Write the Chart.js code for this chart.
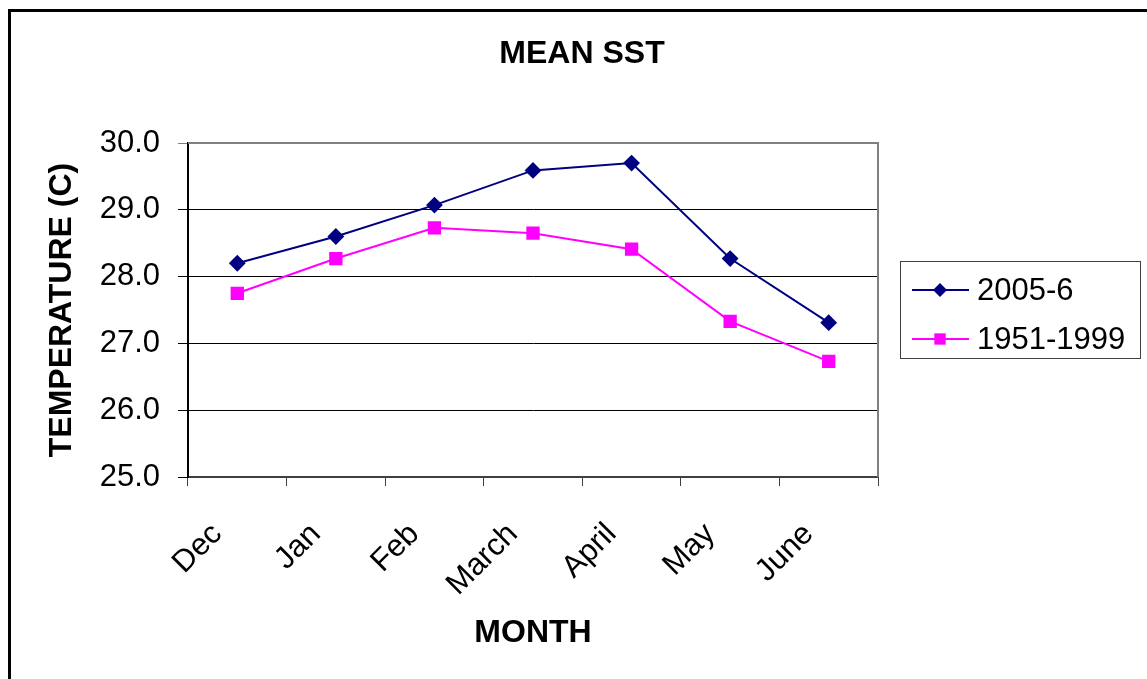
<!DOCTYPE html>
<html>
<head>
<meta charset="utf-8">
<script src="https://cdn.jsdelivr.net/npm/chart.js@4/dist/chart.umd.min.js"></script>
<style>
  html, body { margin: 0; padding: 0; background: #fff; }
  canvas { display: block; }
</style>
</head>
<body>
<canvas id="sstChart" width="1147" height="679"></canvas>
<script>
// chart values
const months = ["Dec", "Jan", "Feb", "March", "April", "May", "June"];
const sst2005 = [28.2, 28.6, 29.07, 29.59, 29.7, 28.27, 27.31];
const sst1951 = [27.75, 28.27, 28.73, 28.65, 28.41, 27.33, 26.73];
const seriesNames = ["2005-6", "1951-1999"];
const yTicks = [25, 26, 27, 28, 29, 30];

const fontFamily = "'Liberation Sans', Arial, sans-serif";

// outer frame, plot border, title and legend box
const decorPlugin = {
    id: "decor",
    beforeDraw(chart) {
        const ctx = chart.ctx;
        ctx.save();
        ctx.fillStyle = "#fff";
        ctx.fillRect(0, 0, chart.width, chart.height);
        ctx.restore();
    },
    beforeDatasetsDraw(chart) {
        const ctx = chart.ctx;
        const a = chart.chartArea;
        ctx.save();
        ctx.strokeStyle = "#808080";
        ctx.lineWidth = 2;
        ctx.beginPath();
        ctx.moveTo(a.left, a.top);
        ctx.lineTo(a.right, a.top);
        ctx.lineTo(a.right, a.bottom);
        ctx.stroke();
        ctx.restore();
    },
    afterDraw(chart) {
        const ctx = chart.ctx;
        ctx.save();
        // frame
        ctx.strokeStyle = "#000";
        ctx.lineWidth = 3;
        ctx.beginPath();
        ctx.moveTo(9.5, chart.height);
        ctx.lineTo(9.5, 10.5);
        ctx.lineTo(chart.width, 10.5);
        ctx.stroke();

        // title
        ctx.fillStyle = "#000";
        ctx.font = "bold 32px " + fontFamily;
        ctx.textAlign = "center";
        ctx.textBaseline = "middle";
        ctx.fillText("MEAN SST", 582, 54);

        // legend
        const box = { x: 900.5, y: 261.5, w: 240, h: 97 };
        ctx.strokeStyle = "#404040";
        ctx.lineWidth = 1;
        ctx.strokeRect(box.x, box.y, box.w, box.h);
        const rows = [290, 339];
        chart.data.datasets.forEach(function (ds, i) {
            const y = rows[i];
            ctx.strokeStyle = ds.borderColor;
            ctx.lineWidth = ds.borderWidth;
            ctx.beginPath();
            ctx.moveTo(912, y);
            ctx.lineTo(969, y);
            ctx.stroke();
            ctx.fillStyle = ds.pointBackgroundColor;
            const r = ds.pointRadius;
            ctx.beginPath();
            if (ds.pointStyle === "rectRot") {
                ctx.moveTo(940 - r, y);
                ctx.lineTo(940, y - r);
                ctx.lineTo(940 + r, y);
                ctx.lineTo(940, y + r);
                ctx.closePath();
            } else {
                const s = r * Math.SQRT1_2;
                ctx.rect(940 - s, y - s, 2 * s, 2 * s);
            }
            ctx.fill();
            ctx.fillStyle = "#000";
            ctx.font = "31px " + fontFamily;
            ctx.textAlign = "left";
            ctx.fillText(ds.label, 977, y + 1);
        });
        ctx.restore();
    },
};

const ctx = document.getElementById("sstChart").getContext("2d");
new Chart(ctx, {
    type: "line",
    plugins: [decorPlugin],
    data: {
        labels: months,
        datasets: [
            {
                label: seriesNames[0],
                data: sst2005,
                borderColor: "#000080",
                backgroundColor: "#000080",
                pointBackgroundColor: "#000080",
                pointBorderColor: "#000080",
                pointStyle: "rectRot",
                pointRadius: 7,
                borderWidth: 2,
            },
            {
                label: seriesNames[1],
                data: sst1951,
                borderColor: "#FF00FF",
                backgroundColor: "#FF00FF",
                pointBackgroundColor: "#FF00FF",
                pointBorderColor: "#FF00FF",
                pointStyle: "rect",
                pointRadius: 8,
                borderWidth: 2,
            },
        ],
    },
    options: {
        responsive: false,
        animation: false,
        devicePixelRatio: 1,
        layout: { padding: { left: 43, top: 143, right: 269, bottom: 0 } },
        plugins: {
            legend: { display: false },
            title: { display: false },
            tooltip: { enabled: false },
        },
        scales: {
            x: {
                offset: true,
                afterFit: function (scale) {
                    scale.height = 202;
                },
                grid: {
                    offset: true,
                    drawOnChartArea: false,
                    drawTicks: true,
                    tickLength: 9,
                    color: "#404040",
                },
                border: { color: "#404040", width: 2 },
                ticks: {
                    autoSkip: false,
                    maxRotation: 45,
                    minRotation: 45,
                    labelOffset: -20,
                    padding: 30,
                    color: "#000",
                    font: { family: fontFamily, size: 31 },
                },
                title: {
                    display: true,
                    text: "MONTH",
                    color: "#000",
                    font: { family: fontFamily, size: 32, weight: "bold" },
                    padding: { top: 0, bottom: 27 },
                },
            },
            y: {
                min: 25,
                max: 30,
                afterFit: function (scale) {
                    scale.width = 145;
                },
                afterBuildTicks: function (scale) {
                    scale.ticks = yTicks.map(function (v) {
                        return { value: v };
                    });
                },
                grid: {
                    color: function (c) {
                        return c.tick && c.tick.value === 30 ? "#808080" : "#000";
                    },
                    lineWidth: 1,
                    drawTicks: true,
                    tickLength: 10,
                },
                border: { color: "#000", width: 2 },
                ticks: {
                    padding: 18,
                    color: "#000",
                    font: { family: fontFamily, size: 31 },
                    callback: function (v) {
                        return Number(v).toFixed(1);
                    },
                },
                title: {
                    display: true,
                    text: "TEMPERATURE (C)",
                    color: "#000",
                    font: { family: fontFamily, size: 32, weight: "bold" },
                    padding: { top: 0, bottom: 0 },
                },
            },
        },
    },
});
</script>
</body>
</html>
